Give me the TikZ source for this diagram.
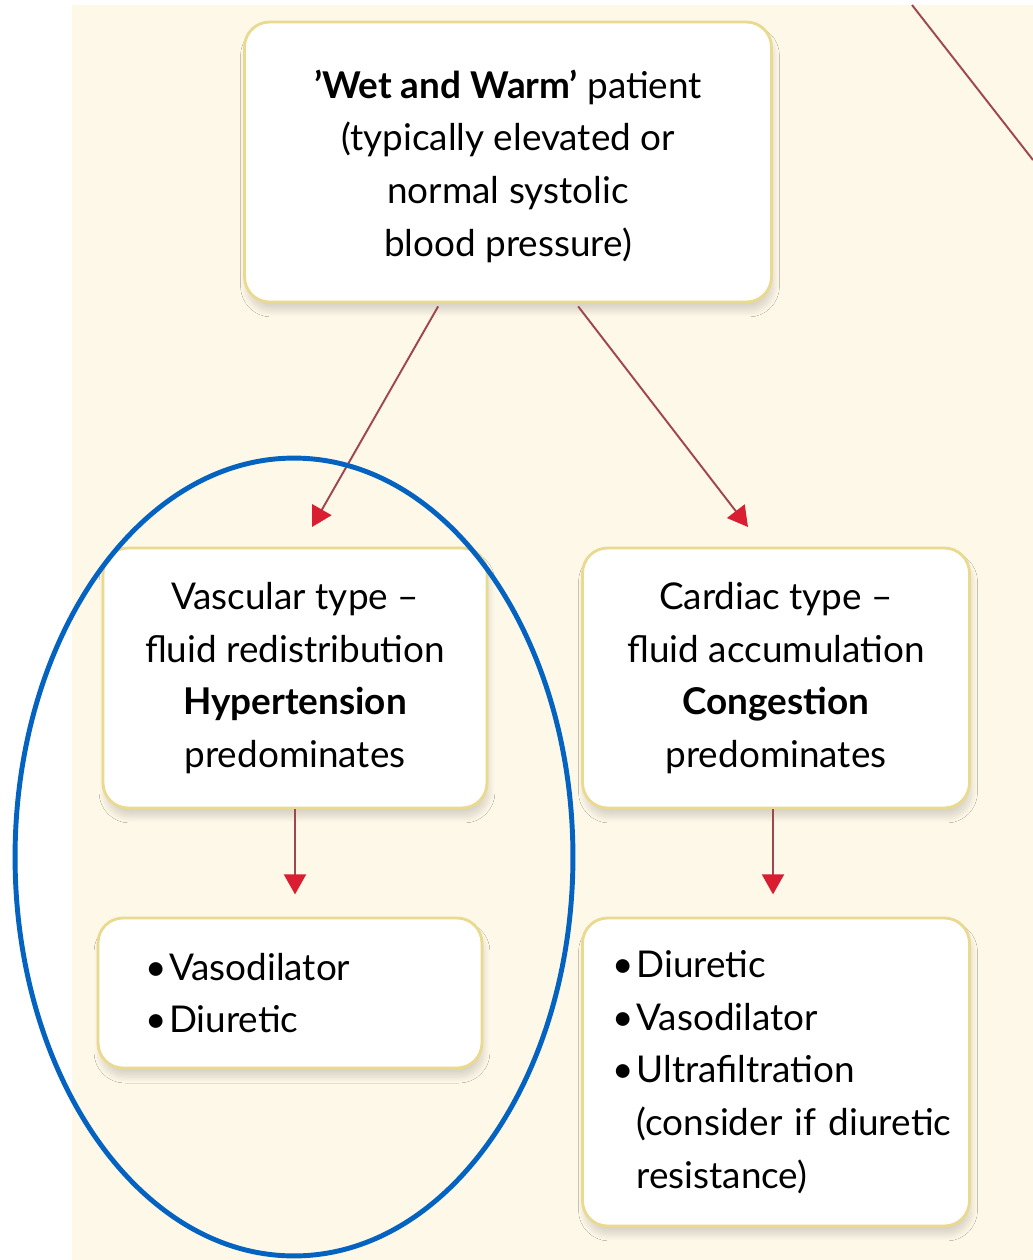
\documentclass[tikz,border=0pt]{standalone}
\usepackage{fontspec}
\setmainfont{Lato}
\usetikzlibrary{arrows.meta,shadows.blur,positioning}

\definecolor{cream}{HTML}{FDF8E8}
\definecolor{boxline}{HTML}{E9DA8F}
\definecolor{linkred}{HTML}{A0464F}
\definecolor{headred}{HTML}{D81E30}
\definecolor{ringblue}{HTML}{0462C0}

\newcommand{\bul}{\makebox[0.48cm][l]{\textbullet}}
\newcommand{\hang}{\hspace*{0.48cm}}

\begin{document}
\begin{tikzpicture}[x=0.02cm, y=-0.02cm,
    font=\fontsize{21}{30}\selectfont,
    box/.style = {draw=boxline, line width=1.6pt, fill=white, rounded corners=0.5cm,
                  align=center, inner sep=0pt,
                  blur shadow={shadow xshift=0.4mm, shadow yshift=-1.8mm,
                               shadow blur radius=1.2mm, shadow opacity=14,
                               shadow blur steps=10}},
    listbox/.style = {box, align=left, inner ysep=0pt},
    link/.style = {draw=linkred, line width=1.1pt,
                   -{Triangle[length=0.4cm, width=0.44cm, color=headred]}},
    ring/.style = {draw=ringblue, line width=2.8pt}]

  % page and cream sheet
  \useasboundingbox (0,0) rectangle (1033,1260);
  \fill[white] (0,0) rectangle (1033,1260);
  \fill[cream] (72,5) rectangle (1033,1260);

  % boxes
  \node[box, minimum width=10.54cm, minimum height=5.6cm] (wet) at (508,162)
    {\rule{0pt}{0.74cm}{\bfseries ’Wet and Warm’} patient\\(typically elevated or\\normal systolic\\blood pressure)};
  \node[box, minimum width=7.68cm, minimum height=5.2cm] (vasc) at (295,678)
    {Vascular type --\\fluid redistribution\\{\bfseries Hypertension}\\predominates};
  \node[box, minimum width=7.74cm, minimum height=5.2cm] (card) at (776,678)
    {Cardiac type --\\fluid accumulation\\{\bfseries Congestion}\\predominates};
  \node[listbox, text width=5.8cm, inner xsep=0.94cm, minimum height=3cm] (vasctx) at (290,993)
    {\mbox{\bul Vasodilator}\\\mbox{\bul Diuretic}};
  \node[listbox, text width=6.54cm, inner xsep=0.6cm, minimum height=6.16cm] (cardtx) at (776,1072)
    {\mbox{\bul Diuretic}\\\mbox{\bul Vasodilator}\\\mbox{\bul Ultrafiltration}\\
     \mbox{\hang(consider if diuretic}\\\mbox{\hang resistance)}};

  % arrows
  \coordinate (vascin) at (312,527);
  \coordinate (cardin) at (748,527);
  \coordinate (cutA) at (912,5);
  \coordinate (cutB) at (1033,160);
  \draw[link] (wet.south west) ++(195,3) coordinate (wetL) -- (vascin);
  \draw[link] (wet.south west) ++(335,3) coordinate (wetR) -- (cardin);
  \draw[link] (vasc.south) -- ++(0,85) coordinate (vascout);
  \draw[link] (card.south) ++(-3,0) -- ++(0,85) coordinate (cardout);
  \draw[draw=linkred, line width=1.1pt] (cutA) -- (cutB);

  % highlight ring
  \draw[ring] (294,857) ellipse [x radius=5.58cm, y radius=7.98cm];
\end{tikzpicture}
\end{document}
